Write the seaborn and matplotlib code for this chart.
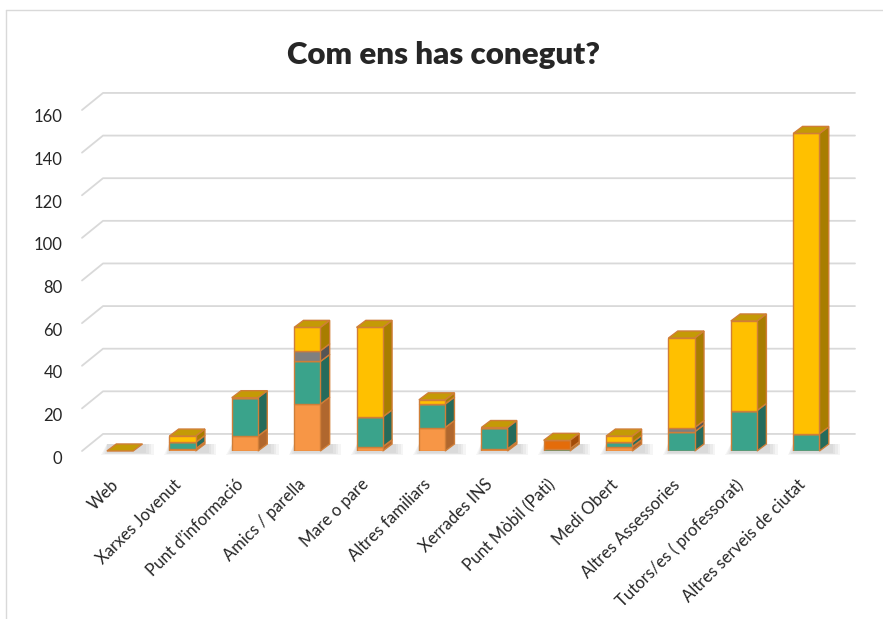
import pandas as pd
import seaborn as sns
import matplotlib.pyplot as plt
from matplotlib.patches import Polygon
from matplotlib.lines import Line2D
from matplotlib.transforms import ScaledTranslation

canals = ["Web", "Xarxes Jovenut", "Punt d’informació", "Amics / parella", "Mare o pare",
          "Altres familiars", "Xerrades INS", "Punt Mòbil (Pati)", "Medi Obert",
          "Altres Assessories", "Tutors/es ( professorat)", "Altres serveis de ciutat"]

serie1 = [0, 1, 7, 22, 2, 11, 1, 0, 2, 0, 0, 0]
serie2 = [0, 3, 18, 20, 14, 11, 10, 1, 2, 9, 19, 8]
serie3 = [0, 0, 0, 0, 0, 0, 0, 4, 0, 0, 0, 0]
serie4 = [0, 0, 0, 5, 0, 0, 0, 0, 0, 2, 0, 0]
serie5 = [0, 3, 0, 11, 42, 2, 0, 0, 3, 42, 42, 141]

series = [serie1, serie2, serie3, serie4, serie5]
front = ["#F79646", "#3AA38B", "#E46C0A", "#7F7F7F", "#FFC000"]
sides = ["#B0672E", "#256B5B", "#A24C08", "#555555", "#A87D00"]
top_col = "#C49A06"
edge = "#D07E38"

sns.set_style("white")
plt.rcParams["font.family"] = ["Lato", "DejaVu Sans"]

fig = plt.figure(figsize=(8.83, 6.19), dpi=100)
ax = fig.add_axes([82 / 883, 1 - 451 / 619, 773 / 883, 341 / 619])

base = [0] * len(canals)
for vals, col in zip(series, front):
    df = pd.DataFrame({"canal": canals, "valor": vals})
    sns.barplot(data=df, x="canal", y="valor", bottom=base, color=col, width=0.42,
                edgecolor=edge, linewidth=1, saturation=1, errorbar=None, ax=ax, zorder=2)
    base = [b + v for b, v in zip(base, vals)]

ax.set_xlim(-0.61, 11.78)
ax.set_ylim(0, 160)

# fake 3D: side faces, top faces, floor shadow
dx, dy = 0.15, 3.3
for cont, side_col in zip(ax.containers, sides):
    for p in cont.patches:
        x0, y0, w, h = p.get_x(), p.get_y(), p.get_width(), p.get_height()
        if h > 0:
            ax.add_patch(Polygon([(x0 + w, y0), (x0 + w + dx, y0 + dy), (x0 + w + dx, y0 + h + dy), (x0 + w, y0 + h)],
                                 closed=True, fc=side_col, ec=edge, lw=1, zorder=1.9, clip_on=False))
for p in ax.containers[-1].patches:
    x0, w = p.get_x(), p.get_width()
    t = p.get_y() + p.get_height()
    ax.add_patch(Polygon([(x0, t), (x0 + dx, t + dy), (x0 + w + dx, t + dy), (x0 + w, t)],
                         closed=True, fc=top_col, ec=edge, lw=1, zorder=2.5, clip_on=False))
    for k in range(4):
        ax.add_patch(Polygon([(x0 - 0.03 * k, -0.8 - 0.4 * k), (x0 + w + dx + 0.06 + 0.04 * k, -0.8 - 0.4 * k),
                              (x0 + w + dx + 0.06 + 0.04 * k, dy), (x0, dy)],
                             closed=True, fc="#808080", ec="none", alpha=0.08, zorder=1.5, clip_on=False))

# back wall gridlines with side wall diagonal
gdx, gdy = 0.337, 8.0
yt = list(range(0, 161, 20))
for v in yt:
    ax.add_line(Line2D([-0.61, -0.61 + gdx, 11.78], [v, v + gdy, v + gdy], color="#D9D9D9",
                       lw=1.3, zorder=0.5, clip_on=False))

ax.set_yticks(yt)
ax.set_yticklabels([str(v) for v in yt], fontsize=12)
ax.tick_params(axis="y", length=0, pad=14)
for lab in ax.get_yticklabels():
    lab.set_transform(lab.get_transform() + ScaledTranslation(0, -0.06, fig.dpi_scale_trans))

ax.set_xticks(range(len(canals)))
ax.set_xticklabels(canals, rotation=45, ha="right", rotation_mode="anchor", fontsize=12)
ax.tick_params(axis="x", length=0, pad=6)
for lab in ax.get_xticklabels():
    lab.set_transform(lab.get_transform() + ScaledTranslation(-0.095, -0.17, fig.dpi_scale_trans))

ax.set_xlabel("")
ax.set_ylabel("")
sns.despine(ax=ax, left=True, bottom=True)
ax.grid(False)

fig.text(0.502, 1 - 55 / 619, "Com ens has conegut?", ha="center", va="center",
         fontsize=22.5, fontweight="heavy")

# chart frame
fig.add_artist(Line2D([6 / 883, 6 / 883], [0, 1 - 10 / 619], color="#D9D9D9", lw=1, transform=fig.transFigure))
fig.add_artist(Line2D([6 / 883, 1], [1 - 10 / 619, 1 - 10 / 619], color="#D9D9D9", lw=1, transform=fig.transFigure))

fig.savefig("out.png", dpi=100)
